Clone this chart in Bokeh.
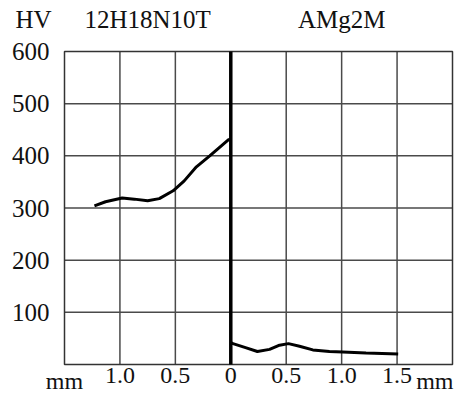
from bokeh.plotting import figure
from bokeh.models import Range1d
from bokeh.core.properties import value
from bokeh.embed import file_html
from bokeh.resources import INLINE

# Steel side (distance from interface, plotted to the left as negative mm)
steel_x = [-1.23, -1.13, -0.98, -0.87, -0.75, -0.645, -0.52, -0.42, -0.31, -0.19, -0.02, 0.0]
steel_hv = [304, 312, 319, 317, 314, 318, 333, 352, 379, 400, 431, 432]

# Aluminium alloy side
al_x = [0.0, 0.02, 0.14, 0.24, 0.35, 0.44, 0.52, 0.62, 0.74, 0.89, 1.01, 1.22, 1.51]
al_hv = [42, 40, 32, 25, 29, 37, 40, 35, 28, 25, 24, 22, 20]

x_ticks = [-1.0, -0.5, 0.0, 0.5, 1.0, 1.5]
x_tick_labels = ["1.0", "0.5", "0", "0.5", "1.0", "1.5"]
x_grid = [-1.0, -0.5, 0.5, 1.0, 1.5]
x_unit = "mm"
y_ticks = [100, 200, 300, 400, 500, 600]
y_tick_labels = ["100", "200", "300", "400", "500", "600"]
y_grid = [100, 200, 300, 400, 500]
y_unit = "HV"
materials = ["12H18N10T", "AMg2M"]
material_x = [-0.75, 1.0]

X_MIN, X_MAX = -1.5, 2.0
Y_MIN, Y_MAX = 0, 600

# ---- layout (pixels) ----
W, H = 454, 395
FRAME_L, FRAME_R, FRAME_T, FRAME_B = 64, 452, 51, 364
sx = (FRAME_R - FRAME_L) / (X_MAX - X_MIN)
sy = (FRAME_B - FRAME_T) / (Y_MAX - Y_MIN)
x_lo = X_MIN - FRAME_L / sx
x_hi = X_MAX + (W - FRAME_R) / sx
y_hi = Y_MAX + FRAME_T / sy
y_lo = Y_MIN - (H - FRAME_B) / sy

FONT = value("Liberation Serif")
FS = value("25px")
FS_X = value("24px")
TXT = "#111111"
GRID = "#4a4a4a"

p = figure(width=W, height=H, output_backend="svg", toolbar_location=None,
           x_range=Range1d(x_lo, x_hi), y_range=Range1d(y_lo, y_hi),
           x_axis_location=None, y_axis_location=None,
           min_border=0, min_border_left=0, min_border_right=0,
           min_border_top=0, min_border_bottom=0)
p.outline_line_color = None
p.background_fill_color = "white"
p.border_fill_color = "white"
p.grid.visible = False

# grid lines inside the chart box
p.segment(x0=x_grid, y0=[Y_MIN] * len(x_grid), x1=x_grid, y1=[Y_MAX] * len(x_grid),
          line_color=GRID, line_width=1.5)
p.segment(x0=[X_MIN] * len(y_grid), y0=y_grid, x1=[X_MAX] * len(y_grid), y1=y_grid,
          line_color=GRID, line_width=1.5)

# chart box
p.quad(left=[X_MIN], right=[X_MAX], bottom=[Y_MIN], top=[Y_MAX],
       fill_color=None, line_color="#333333", line_width=1.5)

# interface line
p.segment(x0=[0.0], y0=[Y_MIN], x1=[0.0], y1=[Y_MAX], line_color="black", line_width=3.5)

p.line(steel_x, steel_hv, line_color="black", line_width=3)
p.line(al_x, al_hv, line_color="black", line_width=3)

# x tick labels
p.text(x=x_ticks, y=[Y_MIN] * len(x_ticks), text=x_tick_labels,
       text_font=FONT, text_font_size=FS_X, text_color=TXT,
       text_align="center", text_baseline="top", y_offset=3)
# unit labels "mm"
p.text(x=[X_MIN], y=[Y_MIN], text=[x_unit], text_font=FONT, text_font_size=FS_X, text_color=TXT,
       text_align="center", text_baseline="top", y_offset=3)
p.text(x=[X_MAX], y=[Y_MIN], text=[x_unit], text_font=FONT, text_font_size=FS_X, text_color=TXT,
       text_align="right", text_baseline="top", y_offset=3, x_offset=1)

# y tick labels
p.text(x=[X_MIN] * len(y_ticks), y=y_ticks, text=y_tick_labels,
       text_font=FONT, text_font_size=FS, text_color=TXT,
       text_align="right", text_baseline="middle", x_offset=-15)

# header: HV and material names
p.text(x=[X_MIN], y=[Y_MAX], text=[y_unit], text_font=FONT, text_font_size=FS, text_color=TXT,
       text_align="center", text_baseline="middle", x_offset=-31, y_offset=-32)
p.text(x=material_x, y=[Y_MAX] * len(materials), text=materials,
       text_font=FONT, text_font_size=FS, text_color=TXT,
       text_align="center", text_baseline="middle", y_offset=-32)

open("out.html", "w").write(file_html(p, INLINE))
